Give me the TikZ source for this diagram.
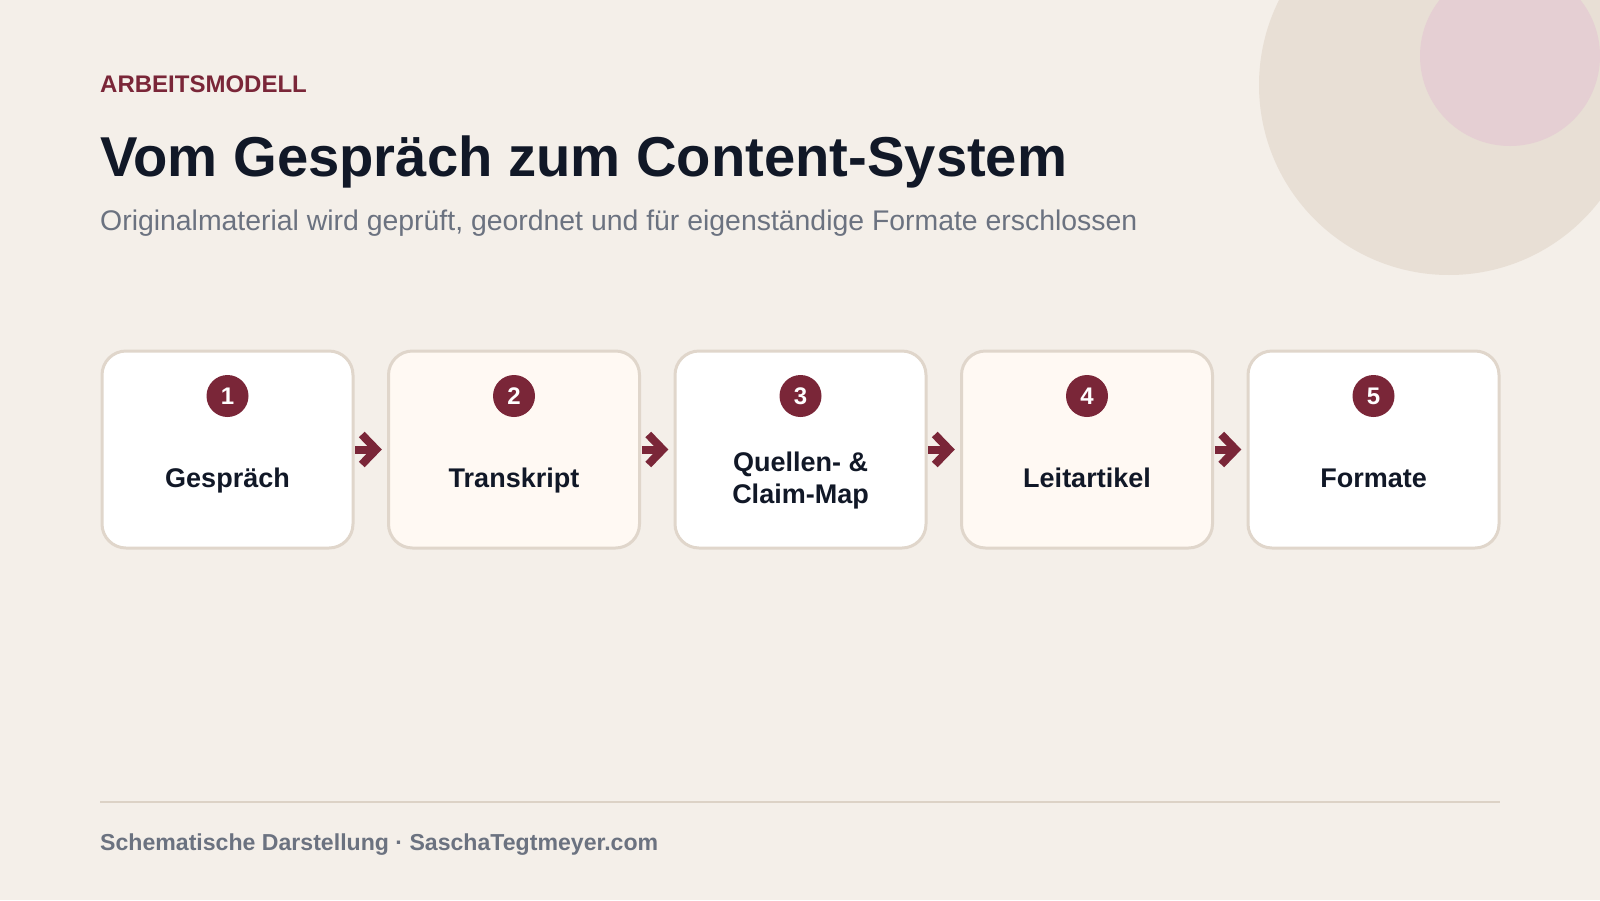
\documentclass[tikz,border=0pt]{standalone}
\usepackage{fontspec}
\setmainfont{Liberation Sans}
\usetikzlibrary{calc}
\definecolor{bgc}{HTML}{F4EFE9}
\definecolor{bigcirc}{HTML}{E8DFD5}
\definecolor{pinkcirc}{HTML}{E5CFD3}
\definecolor{maroon}{HTML}{7A2638}
\definecolor{darktext}{HTML}{111827}
\definecolor{graytext}{HTML}{6B7280}
\definecolor{boxborder}{HTML}{E0D6CB}
\definecolor{cream}{HTML}{FFF9F3}
\definecolor{rulecol}{HTML}{DCD2C6}
\tikzset{
  stepbox/.style={draw=boxborder, line width=3, rounded corners=24, minimum width=251, minimum height=197, inner sep=0},
  numdot/.style={circle, fill=maroon, minimum size=42, inner sep=0, text=white, font=\bfseries\fontsize{24}{28}\selectfont},
  steplabel/.style={align=center, inner sep=0, text=darktext, font=\bfseries\fontsize{27}{32}\selectfont},
  flowline/.style={draw=maroon, line width=8, line cap=butt, miter limit=10},
  txt/.style={anchor=base west, inner sep=0},
}
\begin{document}
\begin{tikzpicture}[x=1pt,y=-1pt]
\useasboundingbox (0,0) rectangle (1600,900);
\fill[bgc] (0,0) rectangle (1600,900);
\begin{scope}
\clip (0,0) rectangle (1600,900);
\fill[bigcirc] (1449,85) circle[radius=190];
\fill[pinkcirc] (1510,56) circle[radius=90];
\end{scope}

\node[txt, text=maroon, font=\bfseries\fontsize{24}{28}\selectfont] (kicker) at (100,92) {ARBEITSMODELL};
\node[txt, text=darktext, font=\bfseries\fontsize{56.2}{66}\selectfont] (title) at (100,176) {Vom Gespräch zum Content-System};
\node[txt, text=graytext, font=\fontsize{28.4}{33}\selectfont] (subtitle) at (100,230) {Originalmaterial wird geprüft, geordnet und für eigenständige Formate erschlossen};

\foreach \i/\fillc in {1/white, 2/cream, 3/white, 4/cream, 5/white} {
  \node[stepbox, fill=\fillc] (b\i) at ({227.5+(\i-1)*286.5},449.5) {};
  \node[numdot] (n\i) at ({227.5+(\i-1)*286.5},396) {\i};
}
\node[steplabel, anchor=base] (l1) at ($(b1.center)+(0,38)$) {Gespräch};
\node[steplabel, anchor=base] (l2) at ($(b2.center)+(0,38)$) {Transkript};
\node[steplabel, anchor=center] (l3) at ($(b3.center)+(0,31.5)$) {Quellen- \&\\Claim-Map};
\node[steplabel, anchor=base] (l4) at ($(b4.center)+(0,38)$) {Leitartikel};
\node[steplabel, anchor=base] (l5) at ($(b5.center)+(0,38)$) {Formate};

\foreach \a/\b in {1/2,2/3,3/4,4/5} {
  \coordinate (m\a) at ($(b\a.east)!0.5!(b\b.west)$);
  \draw[flowline] ($(m\a)+(-15.5,0)$) -- ($(m\a)+(5,0)$);
  \draw[flowline] ($(m\a)+(-9,-15)$) -- ($(m\a)+(5.5,0)$) -- ($(m\a)+(-9,15)$);
}

\draw[rulecol, line width=2] (100,802) -- (1500,802);
\node[txt, text=graytext, font=\bfseries\fontsize{23.1}{27}\selectfont] (footer) at (100,850) {Schematische Darstellung · SaschaTegtmeyer.com};
\end{tikzpicture}
\end{document}
